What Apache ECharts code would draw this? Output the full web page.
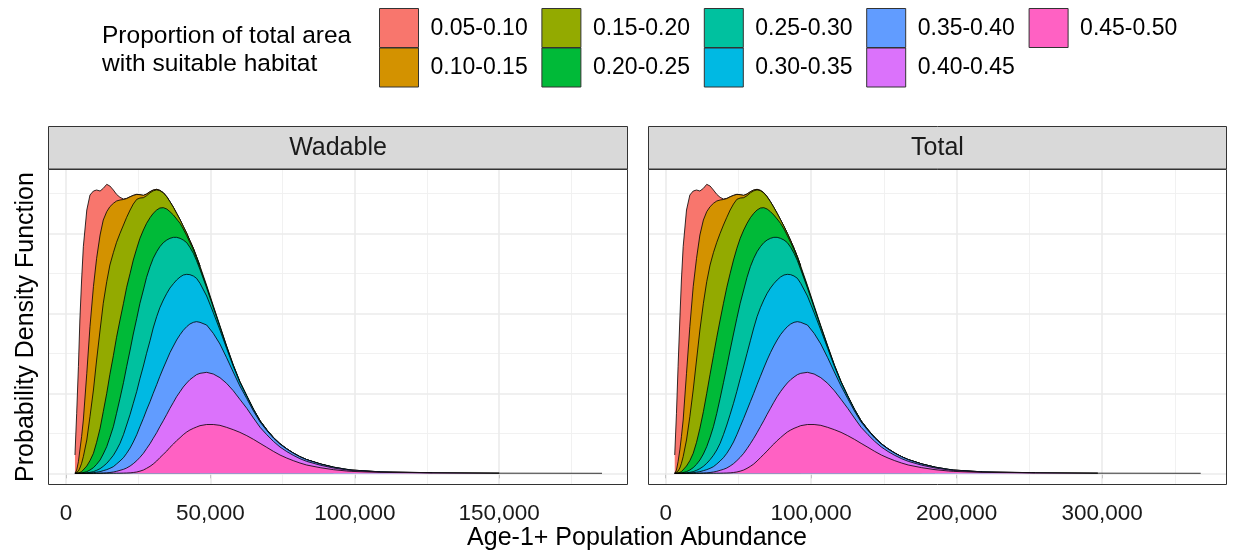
<!DOCTYPE html>
<html>
<head>
<meta charset="utf-8">
<title>Age-1+ Population Abundance</title>
<script src="https://cdn.jsdelivr.net/npm/echarts@6/dist/echarts.min.js"></script>
<style>
  html, body { margin: 0; padding: 0; background: #ffffff; }
  #chart { width: 1233px; height: 553px; }
</style>
</head>
<body>
<div id="chart"></div>
<script>
// Habitat classes (proportion of total area with suitable habitat)
const groups = ['0.05-0.10', '0.10-0.15', '0.15-0.20', '0.20-0.25', '0.25-0.30',
                '0.30-0.35', '0.35-0.40', '0.40-0.45', '0.45-0.50'];
const groupColors = ['#F8766D', '#D39200', '#93AA00', '#00BA38', '#00C19F',
                     '#00B9E3', '#619CFF', '#DB72FB', '#FF61C3'];

// Abundance grid for each panel
const wadableAbundance = [3100, 3700, 4300, 4800, 5400, 6000, 7200, 8300, 9500, 10600, 11800, 12900,
  14100, 15200, 16400, 17500, 18700, 19900, 21000, 22200, 23300, 24500, 25600, 26800,
  27900, 29100, 30200, 31400, 32500, 33700, 34900, 36000, 37200, 38300, 39500, 40600,
  41800, 42900, 44100, 45200, 46400, 48700, 51000, 53300, 55600, 57900, 60200,
  62600, 64900, 67200, 69500, 71800, 74100, 76400, 78700, 81000, 83300,
  88000, 92600, 97200, 99000, 108700, 127000, 150000, 185600];
const totalAbundance = [6200, 7400, 8500, 9700, 10800, 12000, 14300, 16600, 18900, 21200, 23500, 25900,
  28200, 30500, 32800, 35100, 37400, 39700, 42000, 44300, 46600, 48900, 51200, 53600,
  55900, 58200, 60500, 62800, 65100, 67400, 69700, 72000, 74300, 76600, 78900, 81300,
  83600, 85900, 88200, 90500, 92800, 97400, 102000, 106600, 111300, 115900, 120500,
  125100, 129700, 134300, 139000, 143600, 148200, 152800, 157400, 162100, 166700,
  175900, 185100, 194400, 198000, 217400, 254000, 297000, 367700];

// Density of each habitat class on that grid (relative units), stacked in the plot
const density_05_10 = [55, 170, 285, 390, 470, 520, 490, 395, 287, 205, 132, 95,
  82, 62, 40, 20, 8, 1.5, 0.7, 0.5, 0.3, 0.2, 0.15, 0.1,
  0.07, 0.05, 0.03, 0.02, 0.01, 0.01, 0.01, 0.01, 0.01, 0.01, 0.01, 0.01,
  0.01, 0.01, 0.01, 0.01, 0.01, 0, 0, 0, 0, 0, 0,
  0, 0, 0, 0, 0, 0, 0, 0, 0, 0, 0, 0, 0, 0, 0, 0, 0, 0];
const density_10_15 = [0, 8, 28, 54, 80, 110, 200, 270, 310, 305, 285, 250,
  210, 175, 148, 124, 100, 76.5, 56.3, 39.5, 25.7, 14.8, 10, 7,
  5, 3.5, 2.5, 1.7, 1.1, 0.7, 0.45, 0.3, 0.2, 0.13, 0.09, 0.06,
  0.04, 0.03, 0.02, 0.01, 0.01, 0, 0, 0, 0, 0, 0,
  0, 0, 0, 0, 0, 0, 0, 0, 0, 0, 0, 0, 0, 0, 0, 0, 0, 0];
const density_15_20 = [0, 1.7, 6, 13.5, 25, 41, 78, 132, 190, 247, 295, 325,
  335, 328, 309, 285, 260, 235, 210, 190, 168, 147, 120.9, 96.9,
  82.9, 74.5, 67.4, 60.3, 51.9, 44.3, 36.5, 29.7, 22.8, 16.9, 10.9, 7.9,
  7, 6, 5, 4.5, 4.5, 3, 2.5, 2, 1.6, 1, 0.6,
  0.4, 0.3, 0.2, 0.15, 0.1, 0.08, 0.06, 0.04, 0.03, 0.02, 0.01, 0, 0, 0, 0, 0, 0, 0];
const density_20_25 = [0, 0.2, 0.7, 1.9, 4, 7, 17, 28, 43, 66, 95, 127,
  160, 189, 213, 228, 235, 238, 238, 230, 222, 210, 195, 180,
  162, 147, 135, 125, 116, 105, 93, 80, 67, 55, 45, 33,
  21, 14, 10, 7.5, 6.5, 5, 3.5, 2, 1.4, 1, 0.7,
  0.5, 0.4, 0.3, 0.2, 0.15, 0.1, 0.08, 0.06, 0.04, 0.03, 0.02, 0.01, 0, 0, 0, 0, 0, 0];
const density_25_30 = [0, 0.1, 0.2, 0.4, 0.6, 1.3, 3.5, 7, 12, 18, 26, 37,
  50, 67, 86, 110, 135, 156, 175, 193, 208, 219, 226, 228,
  228, 222, 209, 195, 183, 172, 160, 149, 139, 128, 116, 105,
  95, 82, 68, 53, 41, 24, 15, 9, 5, 3, 2,
  1.5, 1, 0.7, 0.5, 0.35, 0.25, 0.18, 0.13, 0.1, 0.08, 0.05, 0.03, 0.02, 0.015, 0.01, 0, 0, 0];
const density_30_35 = [0, 0, 0.1, 0.2, 0.3, 0.5, 1, 2, 3, 5.5, 9, 13,
  19, 26, 34, 42, 53, 69, 85, 101, 116, 130, 144, 157,
  170, 183, 196, 204, 206, 204, 200, 194, 187, 180, 173, 166,
  157, 148, 139, 130, 117, 87, 62, 42, 28, 17, 10.5,
  6.5, 4.3, 3, 2.1, 1.5, 1.1, 0.8, 0.6, 0.45, 0.35, 0.22, 0.13, 0.08, 0.06, 0.02, 0.01, 0, 0];
const density_35_40 = [0, 0, 0, 0, 0.1, 0.2, 0.5, 1, 1.9, 3.2, 4.5, 7,
  9.5, 12.5, 16, 22, 28, 35, 44, 54, 65, 78, 92, 105,
  116, 126, 135, 144, 151, 158, 163, 167, 169, 170, 171, 170,
  169, 167, 164, 159, 153, 142, 122, 101, 77, 56, 40,
  29, 21, 16, 12.5, 10, 8.5, 7.3, 6.3, 5.5, 4.8, 3.6, 2.5, 1.7, 1.4, 0.6, 0.2, 0.05, 0];
const density_40_45 = [0, 0, 0, 0, 0, 0, 0, 0, 0.1, 0.3, 0.5, 1,
  1.4, 2.3, 3.7, 5.6, 8.5, 11.3, 15, 20.5, 26.5, 34, 41.5, 50,
  59, 68, 77, 85, 93, 101, 110, 117, 125, 132, 138, 143,
  147, 151, 154, 157, 157, 156.5, 151.5, 143, 132, 117, 99,
  82, 64, 48, 38, 30, 24, 19.5, 16, 13, 11, 7.5, 5, 3.2, 2.6, 1.1, 0.4, 0.1, 0];
const density_45_50 = [0, 0, 0, 0, 0, 0, 0, 0, 0, 0, 0, 0,
  0.1, 0.2, 0.3, 0.4, 0.5, 0.7, 1, 1.5, 2.5, 4, 6.5, 10,
  15, 21, 28, 37, 47, 57, 67, 78, 88, 98, 107, 116,
  124, 130, 135, 139, 143, 146.5, 146.5, 144, 138, 131, 123,
  113, 102, 90, 78, 66, 55, 46, 38, 31, 25, 17, 11, 7, 5.8, 2.8, 1.2, 0.45, 0.15];

// Axis breaks
const wadableBreaks = [0, 50000, 100000, 150000];
const wadableMinorBreaks = [25000, 75000, 125000, 175000];
const totalBreaks = [0, 100000, 200000, 300000];
const totalMinorBreaks = [50000, 150000, 250000, 350000];
const densityBreaks = [0, 240, 480, 720];
const densityMinorBreaks = [120, 360, 600, 840];

const layers = [density_05_10, density_10_15, density_15_20, density_20_25, density_25_30,
                density_30_35, density_35_40, density_40_45, density_45_50];

const FONT = '"Liberation Sans", Arial, Helvetica, sans-serif';
const PLOT_TOP = 169, PLOT_H = 316;

const panels = [
  { title: 'Wadable', xs: wadableAbundance, min: -6233, max: 194600,
    breaks: wadableBreaks, minor: wadableMinorBreaks, left: 48, width: 580 },
  { title: 'Total', xs: totalAbundance, min: -12165, max: 385770,
    breaks: totalBreaks, minor: totalMinorBreaks, left: 648, width: 579 }
];

const fmt = v => Math.round(v).toString().replace(/\B(?=(\d{3})+(?!\d))/g, ',');

const grids = [], xAxes = [], yAxes = [], series = [], graphics = [];

panels.forEach((p, gi) => {
  grids.push({ left: p.left, top: PLOT_TOP, width: p.width, height: PLOT_H,
               containLabel: false, outerBoundsMode: 'none' });
  xAxes.push({
    type: 'value', gridIndex: gi, min: p.min, max: p.max,
    axisLine: { show: false },
    splitLine: { show: false },
    axisTick: { show: true, customValues: p.breaks, length: 5,
                lineStyle: { color: '#333333', width: 1 } },
    axisLabel: { show: true, customValues: p.breaks, formatter: fmt, margin: 17,
                 fontSize: 22.5, fontFamily: FONT, color: '#1a1a1a' }
  });
  yAxes.push({
    type: 'value', gridIndex: gi, min: -35, max: 913,
    axisLine: { show: false }, axisTick: { show: false },
    axisLabel: { show: false }, splitLine: { show: false }
  });

  // panel grid lines
  const gl = [];
  p.minor.forEach(v => gl.push({ xAxis: v, lineStyle: { color: '#EFEFEF', width: 0.9, type: 'solid' } }));
  densityMinorBreaks.forEach(v => gl.push({ yAxis: v, lineStyle: { color: '#EFEFEF', width: 0.9, type: 'solid' } }));
  p.breaks.forEach(v => gl.push({ xAxis: v, lineStyle: { color: '#EBEBEB', width: 1.6, type: 'solid' } }));
  densityBreaks.forEach(v => gl.push({ yAxis: v, lineStyle: { color: '#EBEBEB', width: 1.6, type: 'solid' } }));
  series.push({
    type: 'line', xAxisIndex: gi, yAxisIndex: gi, data: [], z: 1, silent: true,
    markLine: { silent: true, symbol: ['none', 'none'], label: { show: false },
                emphasis: { disabled: true }, animation: false, data: gl }
  });

  // stacked densities: cumulative tops from the 0.45-0.50 class upward
  const cum = p.xs.map(() => 0);
  const tops = [];
  for (let k = groups.length - 1; k >= 0; k--) {
    for (let i = 0; i < cum.length; i++) cum[i] += layers[k][i];
    tops[k] = cum.slice();
  }
  groups.forEach((g, k) => {
    // each class's curve stops where its own density runs out
    let last = 0;
    layers[k].forEach((v, i) => { if (v > 0) last = i; });
    series.push({
      type: 'line', name: g, xAxisIndex: gi, yAxisIndex: gi,
      data: p.xs.map((x, i) => [x, i <= last ? tops[k][i] : null]),
      symbol: 'none', showSymbol: false, smooth: false, silent: true,
      connectNulls: false,
      z: 10 + k,
      lineStyle: { color: '#000000', width: 0.8 },
      areaStyle: { color: groupColors[k], opacity: 1, origin: 'auto' },
      emphasis: { disabled: true }
    });
  });

  // facet strip and panel frame
  graphics.push({ type: 'rect', z: 100,
    shape: { x: p.left + 0.5, y: 126.5, width: p.width - 1, height: 42.5 },
    style: { fill: '#D9D9D9', stroke: '#333333', lineWidth: 1 } });
  graphics.push({ type: 'text', z: 101, x: p.left + p.width / 2, y: 148,
    style: { text: p.title, font: '25px ' + FONT, fill: '#1a1a1a',
             textAlign: 'center', textVerticalAlign: 'middle' } });
  graphics.push({ type: 'rect', z: 100,
    shape: { x: p.left + 0.5, y: PLOT_TOP + 0.5, width: p.width - 1, height: PLOT_H - 1 },
    style: { fill: 'none', stroke: '#333333', lineWidth: 1 } });
});

// axis titles
graphics.push({ type: 'text', z: 101, x: 637, y: 538,
  style: { text: 'Age-1+ Population Abundance', font: '25px ' + FONT, fill: '#000',
           textAlign: 'center', textVerticalAlign: 'middle' } });
graphics.push({ type: 'text', z: 101, x: 26, y: 327, rotation: Math.PI / 2,
  style: { text: 'Probability Density Function', font: '25px ' + FONT, fill: '#000',
           textAlign: 'center', textVerticalAlign: 'middle' } });

// legend: title plus keys laid out two per column
graphics.push({ type: 'text', z: 101, x: 102, y: 36,
  style: { text: 'Proportion of total area', font: '24.5px ' + FONT, fill: '#000',
           textAlign: 'left', textVerticalAlign: 'middle' } });
graphics.push({ type: 'text', z: 101, x: 102, y: 64,
  style: { text: 'with suitable habitat', font: '24.5px ' + FONT, fill: '#000',
           textAlign: 'left', textVerticalAlign: 'middle' } });
groups.forEach((g, i) => {
  const col = Math.floor(i / 2), row = i % 2;
  const kx = 379.5 + col * 162.4, ky = 8.5 + row * 39.5;
  graphics.push({ type: 'rect', z: 101,
    shape: { x: kx, y: ky, width: 39, height: 39 },
    style: { fill: groupColors[i], stroke: '#333333', lineWidth: 1 } });
  graphics.push({ type: 'text', z: 101, x: kx + 51, y: ky + 20,
    style: { text: g, font: '23px ' + FONT, fill: '#000',
             textAlign: 'left', textVerticalAlign: 'middle' } });
});

const chart = echarts.init(document.getElementById('chart'), null, { renderer: 'canvas' });
chart.setOption({
  animation: false,
  backgroundColor: '#ffffff',
  grid: grids,
  xAxis: xAxes,
  yAxis: yAxes,
  series: series,
  graphic: { elements: graphics }
});
</script>
</body>
</html>
